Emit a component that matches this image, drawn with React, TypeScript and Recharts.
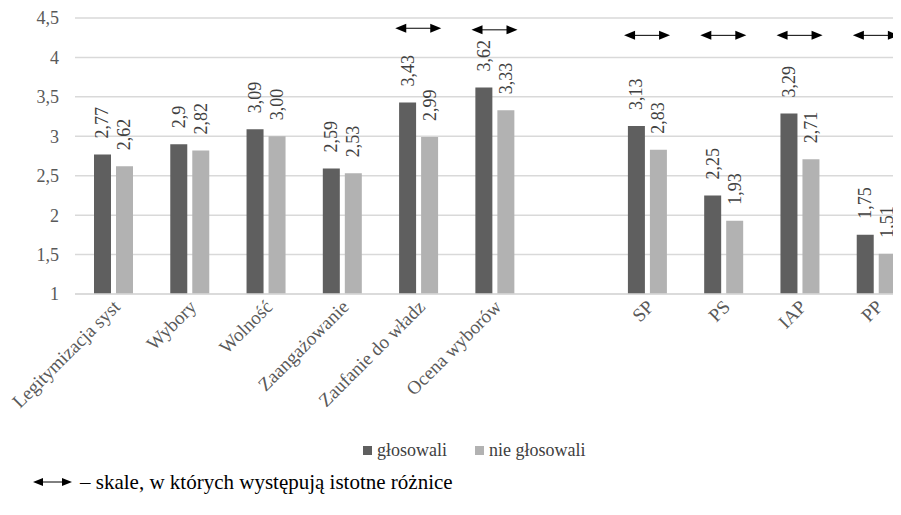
import { BarChart, Bar, XAxis, YAxis, CartesianGrid, LabelList, ReferenceDot } from 'recharts';

const categories = ['Legitymizacja syst', 'Wybory', 'Wolność', 'Zaangażowanie', 'Zaufanie do władz', 'Ocena wyborów', '', 'SP', 'PS', 'IAP', 'PP'];
const voted = [2.77, 2.9, 3.09, 2.59, 3.43, 3.62, null, 3.13, 2.25, 3.29, 1.75];
const notVoted = [2.62, 2.82, 3.0, 2.53, 2.99, 3.33, null, 2.83, 1.93, 2.71, 1.51];
const votedLabels = ['2,77', '2,9', '3,09', '2,59', '3,43', '3,62', '', '3,13', '2,25', '3,29', '1,75'];
const notVotedLabels = ['2,62', '2,82', '3,00', '2,53', '2,99', '3,33', '', '2,83', '1,93', '2,71', '1,51'];
// poziom strzałki (istotna różnica) – null gdy brak
const arrowLevels = [null, null, null, null, 4.37, 4.35, null, 4.28, 4.28, 4.28, 4.28];
const yTicks = [1, 1.5, 2, 2.5, 3, 3.5, 4, 4.5];

const DARK = '#5f5f5f';
const LIGHT = '#b2b2b2';
const FONT = 'Liberation Serif, Tinos, DejaVu Serif, Noto Serif, serif';

const data = categories.map((name, i) => ({
  name,
  voted: voted[i],
  notVoted: notVoted[i],
  votedLabel: votedLabels[i],
  notVotedLabel: notVotedLabels[i],
}));

const BarLabel = (props: any) => {
  const { x, y, width, value } = props;
  if (!value) return null;
  const cx = x + width / 2;
  const ty = y - 16;
  return (
    <text
      x={cx}
      y={ty}
      transform={`rotate(-90 ${cx} ${ty})`}
      textAnchor="start"
      dominantBaseline="central"
      fontSize={18}
      fontFamily={FONT}
      fill="#404040"
    >
      {value}
    </text>
  );
};

const XTick = ({ x, y, payload }: any) => {
  const ax = x + 8;
  const ay = y + 14;
  return (
    <text
      x={ax}
      y={ay}
      transform={`rotate(-45 ${ax} ${ay})`}
      textAnchor="end"
      fontSize={19}
      fontFamily={FONT}
      fill="#595959"
    >
      {payload.value}
    </text>
  );
};

const Arrow = ({ cx, cy }: any) => {
  if (cx == null || cy == null) return null;
  return (
    <g>
      <line x1={cx - 14} y1={cy} x2={cx + 14} y2={cy} stroke="#000" strokeWidth={1} />
      <polygon points={`${cx - 23},${cy} ${cx - 12},${cy - 4.5} ${cx - 12},${cy + 4.5}`} fill="#000" />
      <polygon points={`${cx + 23},${cy} ${cx + 12},${cy - 4.5} ${cx + 12},${cy + 4.5}`} fill="#000" />
    </g>
  );
};

export default function App() {
  return (
    <div
      style={{
        position: 'relative',
        margin: -8,
        width: 901,
        height: 515,
        overflow: 'hidden',
        background: '#fff',
        fontFamily: FONT,
      }}
    >
      <div style={{ position: 'absolute', left: 0, top: 0 }}>
        <BarChart
          width={914}
          height={420}
          data={data}
          margin={{ top: 18, right: 0, bottom: 0, left: 0 }}
          barSize={17}
          barGap={5}
        >
          <CartesianGrid vertical={false} stroke="#d9d9d9" strokeWidth={1.5} />
          <XAxis
            dataKey="name"
            interval={0}
            height={126}
            tickSize={0}
            tickMargin={0}
            axisLine={{ stroke: '#d9d9d9', strokeWidth: 1.5 }}
            tickLine={false}
            tick={<XTick />}
          />
          <YAxis
            width={75}
            domain={[1, 4.5]}
            ticks={yTicks}
            axisLine={false}
            tickLine={false}
            tickSize={0}
            tickMargin={16}
            tick={{ fontSize: 18, fontFamily: FONT, fill: '#595959' }}
            tickFormatter={(v: number) => String(v).replace('.', ',')}
          />
          <Bar dataKey="voted" fill={DARK} isAnimationActive={false}>
            <LabelList dataKey="votedLabel" content={<BarLabel />} />
          </Bar>
          <Bar dataKey="notVoted" fill={LIGHT} isAnimationActive={false}>
            <LabelList dataKey="notVotedLabel" content={<BarLabel />} />
          </Bar>
          {arrowLevels.map((lvl, i) =>
            lvl == null ? null : (
              <ReferenceDot key={i} x={categories[i]} y={lvl} r={0} shape={<Arrow />} />
            )
          )}
        </BarChart>
      </div>

      {/* legenda */}
      <div
        style={{
          position: 'absolute',
          left: 363,
          top: 440,
          display: 'flex',
          alignItems: 'center',
          fontSize: 18,
          lineHeight: '21px',
          color: '#404040',
        }}
      >
        <span style={{ width: 9, height: 9, background: DARK, marginRight: 5 }} />
        <span>głosowali</span>
        <span style={{ width: 9, height: 9, background: LIGHT, marginLeft: 28, marginRight: 5 }} />
        <span>nie głosowali</span>
      </div>

      {/* objaśnienie strzałki */}
      <div
        style={{
          position: 'absolute',
          left: 33,
          top: 470,
          display: 'flex',
          alignItems: 'center',
          fontSize: 21,
          lineHeight: '24px',
          color: '#000',
          whiteSpace: 'nowrap',
        }}
      >
        <svg width={40} height={12} style={{ marginRight: 7 }}>
          <line x1={9} y1={6} x2={31} y2={6} stroke="#000" strokeWidth={1} />
          <polygon points="0,6 10,2 10,10" fill="#000" />
          <polygon points="39,6 29,2 29,10" fill="#000" />
        </svg>
        <span>– skale, w których występują istotne różnice</span>
      </div>
    </div>
  );
}
